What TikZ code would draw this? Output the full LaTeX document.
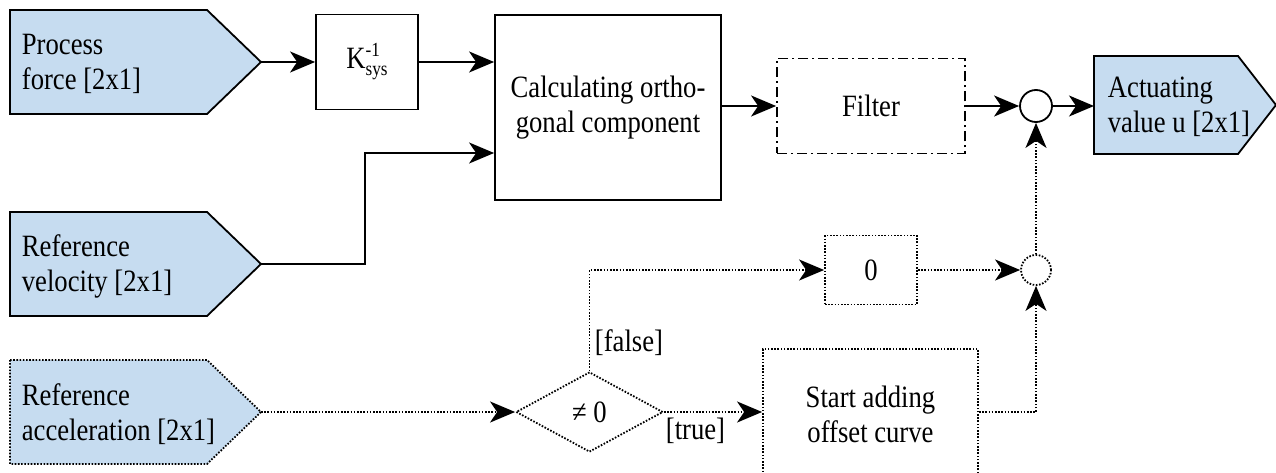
\documentclass[tikz,border=0pt]{standalone}
\usepackage{amsmath}
\usepackage{fontspec}
\setmainfont{Liberation Serif}
\newfontfamily\blockfont{Liberation Serif}[FakeStretch=0.86]
\usetikzlibrary{arrows.meta,shapes.geometric}
\definecolor{portblue}{RGB}{198,220,240}

\begin{document}
\begin{tikzpicture}[x=1pt, y=-1pt, >={Stealth[length=25pt,width=21pt,inset=7pt]},
		line width=1.8pt,
		every node/.style={font=\blockfont\fontsize{31}{35}\selectfont},
		block/.style={draw, align=center, inner sep=2pt},
		port/.style={draw, fill=portblue},
		porttext/.style={anchor=west, align=left, inner sep=0pt},
		dotline/.style={dash pattern=on 1.6pt off 1.6pt},
		dashdot/.style={dash pattern=on 10pt off 4pt on 2pt off 4pt},
		branch/.style={anchor=west, inner sep=2pt}]
		\useasboundingbox (0,0) rectangle (1276,473);
		\clip (0,0) rectangle (1276,473);
		
		% Inputs
		\draw[port] (10,10) -- (207,10) -- (261,62) -- (207,114) -- (10,114) -- cycle;
		\node[porttext] (pf) at (21,64) {Process\\force [2x1]};
		\coordinate (pfout) at (261,62);
		
		\draw[port] (10,212) -- (207,212) -- (261,264) -- (207,316) -- (10,316) -- cycle;
		\node[porttext] (rv) at (21,266) {Reference\\velocity [2x1]};
		\coordinate (rvout) at (261,264);
		
		\draw[port, dotline] (10,360) -- (207,360) -- (261,412) -- (207,464) -- (10,464) -- cycle;
		\node[porttext] (ra) at (21,414) {Reference\\acceleration [2x1]};
		\coordinate (raout) at (261,412);
		
		% Output
		\draw[port] (1094,56) -- (1238,56) -- (1276,105) -- (1238,154) -- (1094,154) -- cycle;
		\node[porttext] (av) at (1107,107) {Actuating\\value u [2x1]};
		\coordinate (avin) at (1094,106);
		
		% Blocks
		\node[block, minimum width=102pt, minimum height=95pt] (ksys) at (367,62) {K\rlap{\raisebox{12pt}{\fontsize{20}{20}\selectfont -1}}\raisebox{-7pt}{\fontsize{20}{20}\selectfont sys}};
		\node[block, minimum width=226pt, minimum height=185pt] (calc) at (608,107.5) {Calculating ortho-\\gonal component};
		\node[block, dashdot, minimum width=188pt, minimum height=95pt] (filter) at (871,106) {Filter};
		\node[circle, draw, minimum size=32pt, inner sep=0pt] (sum) at (1036,106) {};
		
		% Offset branch
		\node[diamond, draw, dotline, minimum width=147pt, minimum height=80pt, inner sep=0pt] (neq) at (589.5,412) {≠ 0};
		\node[block, dotline, minimum width=92pt, minimum height=69pt] (zero) at (871,270) {0};
		\node[block, dotline, minimum width=215pt, minimum height=130pt] (offset) at (870.5,414) {Start adding\\offset curve};
		\node[circle, draw, dotline, minimum size=30pt, inner sep=0pt] (merge) at (1036,270) {};
		\node[branch] (lfalse) at (592,343) {[false]};
		\node[branch] (ltrue) at (663,431) {[true]};
		
		% Main path
		\draw[->] (pfout) -- (ksys);
		\draw[->] (ksys.east) -- (ksys.east -| calc.west);
		\draw[->] (rvout) -- (365,264) |- ([yshift=-45.5pt]calc.west);
		\draw[->] (calc.east |- filter.west) -- (filter.west);
		\draw[->] (filter) -- (sum);
		\draw[->] (sum) -- (avin);
		
		% Offset path
		\draw[->, dotline] (raout) -- (neq.west);
		\draw[->, dotline] (neq.north) |- (zero.west);
		\draw[->, dotline] (neq.east) -- (neq.east -| offset.west);
		\draw[->, dotline] (zero) -- (merge);
		\draw[->, dotline] (offset.east |- neq.east) -| (merge.south);
		\draw[->, dotline] (merge) -- (sum);
		
	\end{tikzpicture}
\end{document}
